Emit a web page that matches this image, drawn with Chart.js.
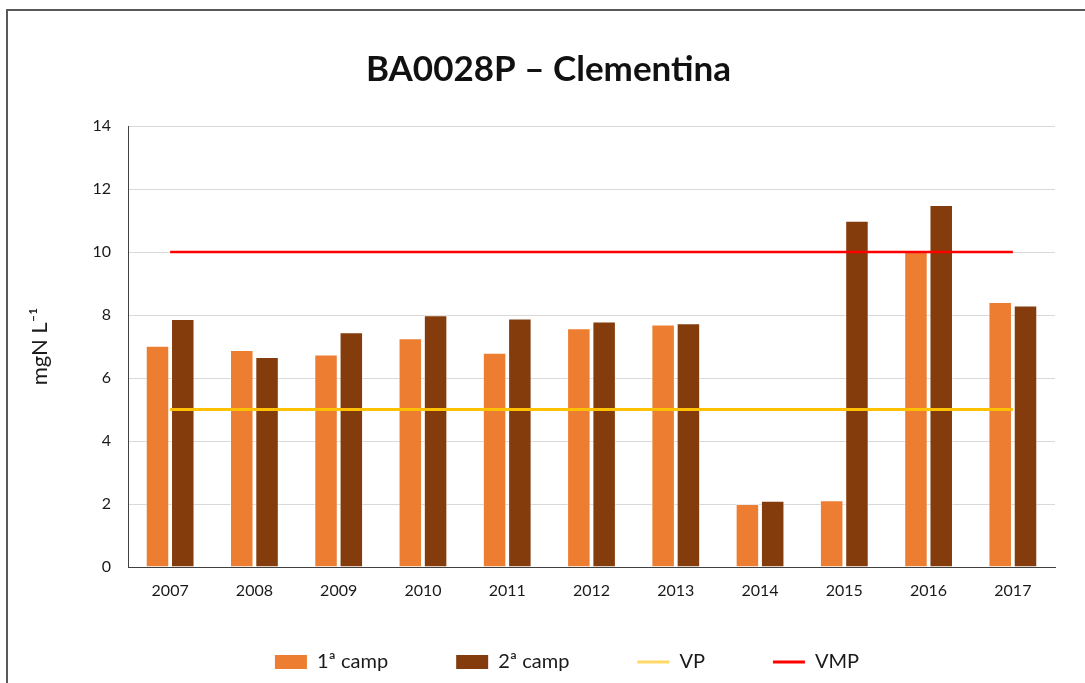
<!DOCTYPE html>
<html>
<head>
<meta charset="utf-8">
<script src="https://cdn.jsdelivr.net/npm/chart.js@4"></script>
<style>
  html, body { margin: 0; padding: 0; background: #fff; }
  #wrap { width: 1085px; height: 683px; }
</style>
</head>
<body>
<div id="wrap"><canvas id="c" width="1085" height="683"></canvas></div>
<script>
const categories = ['2007','2008','2009','2010','2011','2012','2013','2014','2015','2016','2017'];
const camp1 = [7.02, 6.89, 6.75, 7.26, 6.80, 7.58, 7.70, 2.00, 2.12, 10.00, 8.41];
const camp2 = [7.87, 6.67, 7.45, 7.99, 7.89, 7.79, 7.74, 2.10, 10.99, 11.49, 8.30];
const vp = [5, 5, 5, 5, 5, 5, 5, 5, 5, 5, 5];
const vmp = [10, 10, 10, 10, 10, 10, 10, 10, 10, 10, 10];
const seriesNames = ['1ª camp', '2ª camp', 'VP', 'VMP'];
const yTicks = [0, 2, 4, 6, 8, 10, 12, 14];

const colors = ['#ED7D31', '#843C0C', '#FFC000', '#FF0000'];
const legendColors = ['#ED7D31', '#843C0C', '#FFD966', '#FF0000'];

Chart.defaults.font.family = 'Lato, "Open Sans", sans-serif';
Chart.defaults.color = '#1a1a1a';

const framePlugin = {
  id: 'frame',
  beforeDraw(chart) {
    const ctx = chart.ctx;
    ctx.save();
    ctx.fillStyle = '#fff';
    ctx.fillRect(0, 0, chart.width, chart.height);
    ctx.strokeStyle = '#595959';
    ctx.lineWidth = 2;
    ctx.strokeRect(7, 10, 1200, 800);
    ctx.restore();
  }
};

const boxShift = {
  id: 'boxShift',
  afterLayout(chart) {
    const lg = chart.legend;
    if (lg) {
      lg.left += 39.5;
      lg.right += 39.5;
      lg.top = 584;
      lg.bottom = 683;
      lg.height = lg.bottom - lg.top;
    }
    const tb = chart.titleBlock;
    if (tb) {
      tb.left += 21;
      tb.right += 21;
    }
  }
};

new Chart(document.getElementById('c'), {
  data: {
    labels: categories,
    datasets: [
      { type: 'bar', label: seriesNames[0], data: camp1, backgroundColor: colors[0],
        borderColor: 'rgba(255,255,255,0.45)', borderWidth: 1, order: 2,
        categoryPercentage: 0.6, barPercentage: 0.93 },
      { type: 'bar', label: seriesNames[1], data: camp2, backgroundColor: colors[1],
        borderColor: 'rgba(255,255,255,0.45)', borderWidth: 1, order: 3,
        categoryPercentage: 0.6, barPercentage: 0.93 },
      { type: 'line', label: seriesNames[2], data: vp, borderColor: colors[2], backgroundColor: colors[2],
        borderWidth: 3, pointRadius: 0, order: 0 },
      { type: 'line', label: seriesNames[3], data: vmp, borderColor: colors[3], backgroundColor: colors[3],
        borderWidth: 2.5, pointRadius: 0, order: 1 }
    ]
  },
  options: {
    responsive: false,
    animation: false,
    devicePixelRatio: 1,
    layout: { padding: { left: 0, right: 30, top: 0, bottom: 0 } },
    plugins: {
      tooltip: { enabled: false },
      title: {
        display: true,
        text: 'BA0028P – Clementina',
        font: { size: 35, weight: 'bold' },
        color: '#111',
        padding: { top: 49, bottom: 35 }
      },
      legend: {
        position: 'bottom',
        maxHeight: 30,
        labels: {
          usePointStyle: true,
          pointStyleWidth: 32,
          boxHeight: 14,
          padding: 68,
          font: { size: 20 },
          color: '#1a1a1a',
          generateLabels: (chart) => chart.data.datasets.map((ds, i) => ({
            text: ds.label,
            fillStyle: legendColors[i],
            strokeStyle: legendColors[i],
            lineWidth: ds.type === 'line' ? 3 : 0,
            pointStyle: ds.type === 'line' ? 'line' : 'rect',
            hidden: false,
            datasetIndex: i,
            fontColor: '#1a1a1a'
          }))
        }
      }
    },
    scales: {
      x: {
        grid: { display: false, drawTicks: false },
        border: { display: true, color: '#404040', width: 1 },
        ticks: { font: { size: 16 }, padding: 14, color: '#1a1a1a' },
        afterFit: (s) => { s.height = 86; }
      },
      y: {
        min: 0, max: 14,
        afterBuildTicks: (s) => { s.ticks = yTicks.map(v => ({ value: v })); },
        grid: { color: '#d9d9d9', lineWidth: 1, drawTicks: false },
        border: { display: true, color: '#404040', width: 1 },
        ticks: { font: { size: 16 }, padding: 17, color: '#1a1a1a' },
        title: {
          display: true,
          text: 'mgN L⁻¹',
          font: { size: 22 },
          color: '#1a1a1a',
          padding: { top: 27, bottom: 0 }
        },
        afterFit: (s) => { s.width = 128; }
      }
    }
  },
  plugins: [framePlugin, boxShift]
});
</script>
</body>
</html>
